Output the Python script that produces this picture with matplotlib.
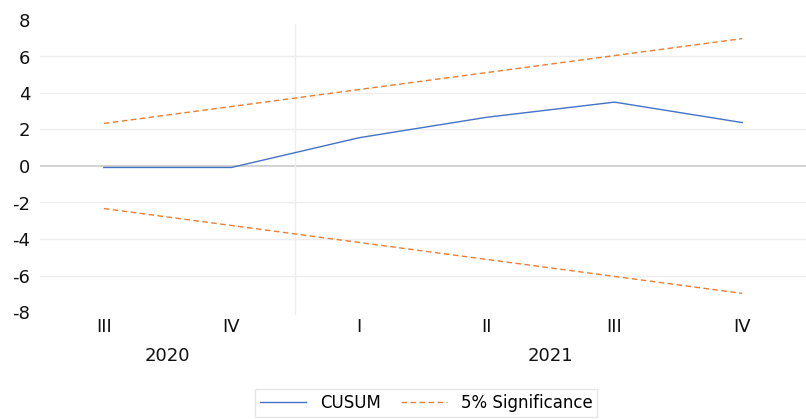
import matplotlib
matplotlib.use('Agg')
import matplotlib.pyplot as plt
import matplotlib.transforms as mtransforms

quarters = ['III', 'IV', 'I', 'II', 'III', 'IV']
years = ['2020', '2021']
year_spans = [(0, 1), (2, 5)]
cusum = [-0.08, -0.08, 1.55, 2.67, 3.5, 2.38]
upper = [2.33, 3.26, 4.19, 5.12, 6.05, 6.98]
lower = [-2.33, -3.26, -4.19, -5.12, -6.05, -6.98]

plt.rcParams['font.family'] = ['DejaVu Sans']
plt.rcParams['axes.unicode_minus'] = False

fig = plt.figure(figsize=(8.06, 4.19), dpi=100)
ax = fig.add_axes([40 / 806, 1 - 312 / 419, 766 / 806, 292 / 419])

x = list(range(len(quarters)))
ax.plot(x, cusum, color='#4472C4', lw=1.0, label='CUSUM', zorder=3)
ax.plot(x, upper, color='#ED7D31', lw=1.0, ls=(0, (4, 2.5)), label='5% Significance', zorder=3)
ax.plot(x, lower, color='#ED7D31', lw=1.0, ls=(0, (4, 2.5)), zorder=3)

ax.set_xlim(-0.5, len(quarters) - 0.5)
ax.set_ylim(-8, 8)
ax.set_yticks(range(-8, 9, 2))
for v in range(-6, 8, 2):
    ax.axhline(v, color='#CFCFCF' if v == 0 else '#EDEDED', lw=1.3 if v == 0 else 1.0, zorder=1)

# year separator
ax.plot([1.5, 1.5], [-8.1, 7.8], color='#EDEDED', lw=1.0, clip_on=False, zorder=1)

for s in ax.spines.values():
    s.set_visible(False)
ax.tick_params(axis='both', length=0, labelsize=13, colors='#111111')
ax.tick_params(axis='y', pad=7)
ax.tick_params(axis='x', pad=4)
ax.set_xticks(x)
ax.set_xticklabels(quarters)

trans = mtransforms.blended_transform_factory(ax.transData, fig.transFigure)
for yr, (a, b) in zip(years, year_spans):
    ax.text((a + b) / 2, 1 - 356 / 419, yr, transform=trans, ha='center', va='center',
            fontsize=13, color='#111111')

leg = fig.legend(loc='center', bbox_to_anchor=(426 / 806, 1 - 403 / 419), ncol=2,
                 fontsize=12, frameon=True, fancybox=False, handlelength=2.8,
                 columnspacing=1.2, borderpad=0.3)
leg.get_frame().set_edgecolor('#E0E0E0')
leg.get_frame().set_linewidth(1.0)

fig.savefig('out.png', dpi=100)
